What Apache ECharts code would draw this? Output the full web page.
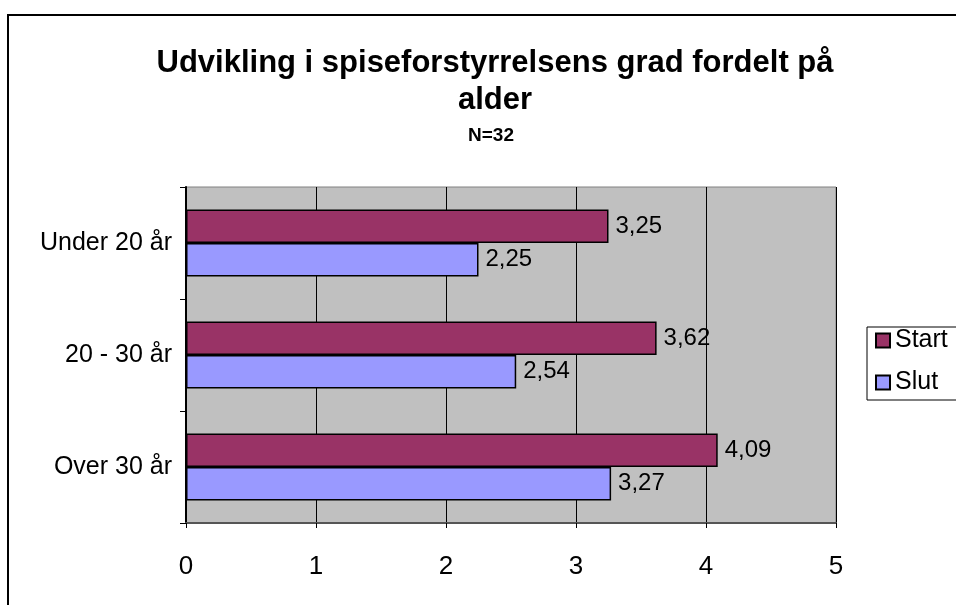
<!DOCTYPE html>
<html>
<head>
<meta charset="utf-8">
<script src="https://cdn.jsdelivr.net/npm/echarts@6/dist/echarts.min.js"></script>
<style>html,body{margin:0;padding:0;background:#fff}#c{width:956px;height:605px}</style>
</head>
<body>
<div id="c"></div>
<script>
var categories = ['Under 20 år', '20 - 30 år', 'Over 30 år'];
var startValues = [3.25, 3.62, 4.09];
var slutValues = [2.25, 2.54, 3.27];
var xTicks = [0, 1, 2, 3, 4, 5];

var chart = echarts.init(document.getElementById('c'), null, {renderer: 'canvas'});
var font = 'Liberation Sans, Arial, sans-serif';
function lbl(p) { return String(p.value.toFixed(2)).replace('.', ','); }
chart.setOption({
  animation: false,
  textStyle: {fontFamily: font},
  graphic: [{
    type: 'rect', shape: {x: 8, y: 15, width: 1000, height: 700},
    style: {fill: 'none', stroke: '#000', lineWidth: 2}, z: 100
  }],
  title: [{
    text: 'Udvikling i spiseforstyrrelsens grad fordelt på\nalder',
    left: 490, textAlign: 'center', top: 40,
    textStyle: {fontFamily: font, fontSize: 31, fontWeight: 'bold', color: '#000', lineHeight: 37}
  }, {
    text: 'N=32',
    left: 486, textAlign: 'center', top: 121,
    textStyle: {fontFamily: font, fontSize: 19, fontWeight: 'bold', color: '#000'}
  }],
  legend: {
    orient: 'vertical', left: 867, top: 327,
    padding: [1, 30, 5, 8],
    itemWidth: 14, itemHeight: 14, itemGap: 17, itemTextGap: 7,
    borderColor: '#000', borderWidth: 1,
    icon: 'rect',
    textStyle: {fontFamily: font, fontSize: 25, color: '#000'},
    data: ['Start', 'Slut']
  },
  grid: {
    left: 186, right: 120, top: 187, bottom: 82,
    show: true, backgroundColor: '#C0C0C0', borderColor: '#808080', borderWidth: 1
  },
  xAxis: {
    type: 'value', min: 0, max: 5, interval: 1,
    axisLine: {show: true, lineStyle: {color: '#555', width: 2}},
    axisTick: {show: true, length: 5, lineStyle: {color: '#000'}},
    axisLabel: {fontFamily: font, fontSize: 26, color: '#000', margin: 31,
      formatter: function (v) { return xTicks.indexOf(v) >= 0 ? String(v) : ''; }},
    splitLine: {show: true, lineStyle: {color: '#000', width: 1}}
  },
  yAxis: {
    type: 'category', data: categories, inverse: true,
    axisLine: {show: true, lineStyle: {color: '#000', width: 2}},
    axisTick: {show: true, length: 6, lineStyle: {color: '#000'}},
    axisLabel: {fontFamily: font, fontSize: 25, color: '#000', margin: 14}
  },
  series: [{
    name: 'Start', type: 'bar', data: startValues,
    barGap: '0%', barCategoryGap: '40%',
    itemStyle: {color: '#993366', borderColor: '#000', borderWidth: 1.5},
    label: {show: true, position: 'right', distance: 7, fontFamily: font, fontSize: 24, color: '#000', formatter: lbl}
  }, {
    name: 'Slut', type: 'bar', data: slutValues,
    barGap: '0%', barCategoryGap: '40%',
    itemStyle: {color: '#9999FF', borderColor: '#000', borderWidth: 1.5},
    label: {show: true, position: 'right', distance: 7, fontFamily: font, fontSize: 24, color: '#000', formatter: lbl}
  }]
});
</script>
</body>
</html>
